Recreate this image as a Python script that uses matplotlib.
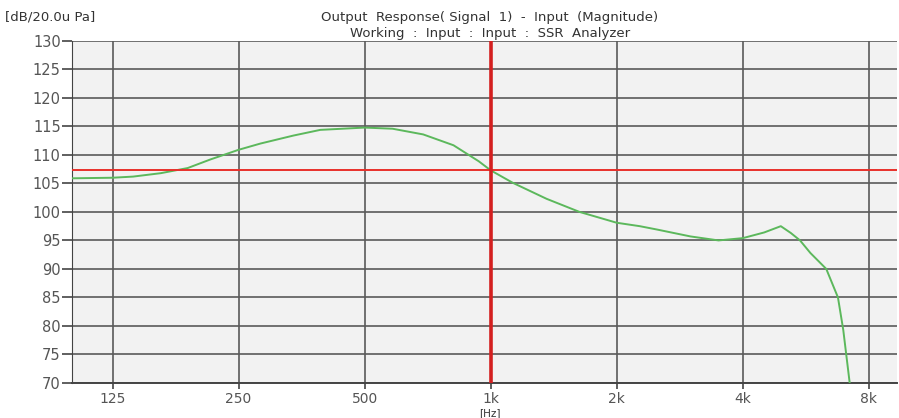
import matplotlib
matplotlib.use("Agg")
import matplotlib.pyplot as plt
from matplotlib.ticker import FixedLocator, NullLocator

# ------------------------------------
# Data
# ------------------------------------
freq_hz = [100, 125, 140, 163, 189, 214, 250, 282, 338, 392, 500, 583, 690,
           815, 936, 1000, 1130, 1360, 1630, 2000, 2270, 2500, 3000, 3500,
           4000, 4500, 4930, 5210, 5480, 5800, 6330, 6750, 6950, 7200]
level_db = [105.9, 106.0, 106.2, 106.8, 107.7, 109.2, 110.9, 112.0, 113.4,
            114.4, 114.8, 114.6, 113.6, 111.7, 108.9, 107.3, 105.1, 102.3,
            100.0, 98.1, 97.5, 96.9, 95.7, 95.0, 95.4, 96.4, 97.5, 96.3, 95.0,
            92.8, 90.0, 85.0, 79.3, 70.0]

x_ticks = [125, 250, 500, 1000, 2000, 4000, 8000]
x_labels = ["125", "250", "500", "1k", "2k", "4k", "8k"]
y_ticks = [70, 75, 80, 85, 90, 95, 100, 105, 110, 115, 120, 125, 130]

cursor_freq = 1000
cursor_level = 107.3

# ------------------------------------
# Plot
# ------------------------------------
fig = plt.figure(figsize=(8.99, 4.18), dpi=100)
ax = fig.add_axes([0.080, 0.084, 0.918, 0.818])
ax.set_facecolor("#f2f2f2")

ax.set_xscale("log")
ax.set_xlim(100, 9350)
ax.set_ylim(70, 130)

ax.xaxis.set_major_locator(FixedLocator(x_ticks))
ax.xaxis.set_minor_locator(NullLocator())
ax.set_xticklabels(x_labels)
ax.set_yticks(y_ticks)

ax.grid(True, color="#5a5a5a", linewidth=1.2)
ax.set_axisbelow(True)

ax.plot(freq_hz, level_db, color="#5cb85c", linewidth=1.4, zorder=3)
ax.axhline(cursor_level, color="#e8302a", linewidth=1.4, zorder=4)
ax.axvline(cursor_freq, color="#d42020", linewidth=2.6, zorder=4)

for s in ["top", "right"]:
    ax.spines[s].set_visible(False)
ax.spines["left"].set_color("#444444")
ax.spines["bottom"].set_color("#444444")
ax.spines["bottom"].set_linewidth(1.4)

ax.tick_params(axis="both", colors="#444444", labelcolor="#555555",
               labelsize=10.5, width=1.2)
ax.tick_params(axis="y", length=7, pad=1)
ax.tick_params(axis="x", length=4.5, pad=2, labelsize=10)

fig.text(0.006, 0.950, "[dB/20.0u Pa]", fontsize=9.5, color="#333333")
fig.text(0.545, 0.950, "Output  Response( Signal  1)  -  Input  (Magnitude)",
         fontsize=9.5, color="#333333", ha="center")
fig.text(0.545, 0.912, "Working  :  Input  :  Input  :  SSR  Analyzer",
         fontsize=9.5, color="#333333", ha="center")
fig.text(0.545, 0.0, "[Hz]", fontsize=7.5, color="#333333", ha="center",
         va="bottom")

fig.savefig("out.png", dpi=100, facecolor="white")
